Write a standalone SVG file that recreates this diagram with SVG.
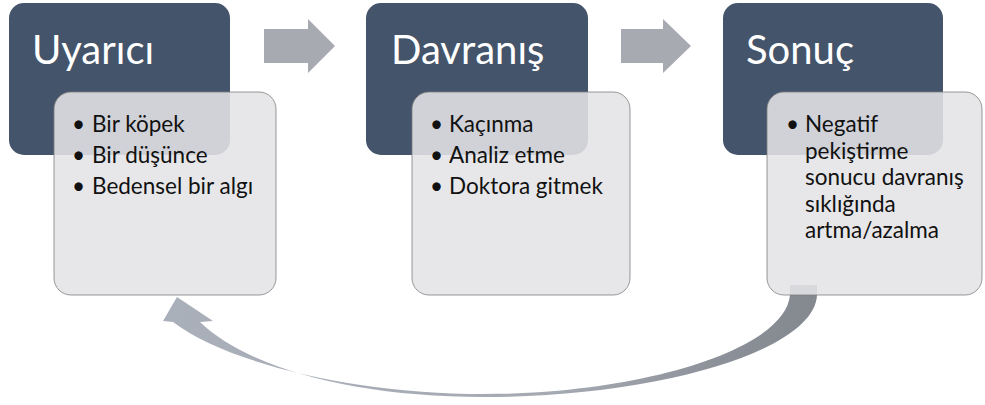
<svg xmlns="http://www.w3.org/2000/svg" width="985" height="405" viewBox="0 0 985 405">
  <style>
    .head { fill: #44546a; }
    .body { fill: #e4e4e6; fill-opacity: 0.88; stroke: #7f7f7f; stroke-width: 0.8; }
    .title { font-family: Lato, "Liberation Sans", sans-serif; font-size: 40px; fill: #ffffff; }
    .item { font-family: Lato, "Liberation Sans", sans-serif; font-size: 22.5px; fill: #111111; }
    .step { fill: #a8aab2; }
  </style>
  <defs>
    <linearGradient id="loopFill" x1="170" y1="0" x2="820" y2="0" gradientUnits="userSpaceOnUse">
      <stop offset="0" stop-color="#aab0ba"/>
      <stop offset="0.6" stop-color="#a4a9b2"/>
      <stop offset="0.85" stop-color="#8c9199"/>
      <stop offset="1" stop-color="#83878e"/>
    </linearGradient>
  </defs>

  <!-- feedback loop and step arrows -->
  <g id="connectors">
    <path fill="url(#loopFill)" d="M 817,285 L 817,295 C 815,350 660,397 483,397 C 360,397 250,370 200,322 L 213,321 L 177,297 L 163,321 L 173,322 C 230,365 360,394 483,394 C 640,394 785,350 790,295 L 790,285 Z"/>
    <polygon class="step" points="264,29 308,29 308,19 335,46 308,73 308,63 264,63"/>
    <polygon class="step" points="621,29 663,29 663,19 691,46 663,73 663,63 621,63"/>
  </g>

  <g id="uyarici">
    <rect class="head" x="9" y="3" width="221" height="152" rx="15"/>
    <text class="title" x="32" y="64">Uyarıcı</text>
    <rect class="body" x="54" y="92" width="222" height="203" rx="17"/>
    <text class="item" x="72" y="132">•</text>
    <text class="item" x="92" y="132">Bir köpek</text>
    <text class="item" x="72" y="163">•</text>
    <text class="item" x="92" y="163">Bir düşünce</text>
    <text class="item" x="72" y="194">•</text>
    <text class="item" x="92" y="194">Bedensel bir algı</text>
  </g>

  <g id="davranis">
    <rect class="head" x="366" y="3" width="222" height="152" rx="15"/>
    <text class="title" x="391" y="64">Davranış</text>
    <rect class="body" x="412" y="92" width="218" height="203" rx="17"/>
    <text class="item" x="430" y="132">•</text>
    <text class="item" x="449" y="132">Kaçınma</text>
    <text class="item" x="430" y="163">•</text>
    <text class="item" x="449" y="163">Analiz etme</text>
    <text class="item" x="430" y="194">•</text>
    <text class="item" x="449" y="194">Doktora gitmek</text>
  </g>

  <g id="sonuc">
    <rect class="head" x="723" y="3" width="220" height="152" rx="15"/>
    <text class="title" x="746" y="64">Sonuç</text>
    <rect class="body" x="767" y="92" width="215" height="203" rx="17"/>
    <text class="item" x="786" y="132">•</text>
    <text class="item" x="805" y="132">Negatif</text>
    <text class="item" x="805" y="158.5">pekiştirme</text>
    <text class="item" x="805" y="185">sonucu davranış</text>
    <text class="item" x="805" y="211.5">sıklığında</text>
    <text class="item" x="805" y="238">artma/azalma</text>
  </g>
</svg>
